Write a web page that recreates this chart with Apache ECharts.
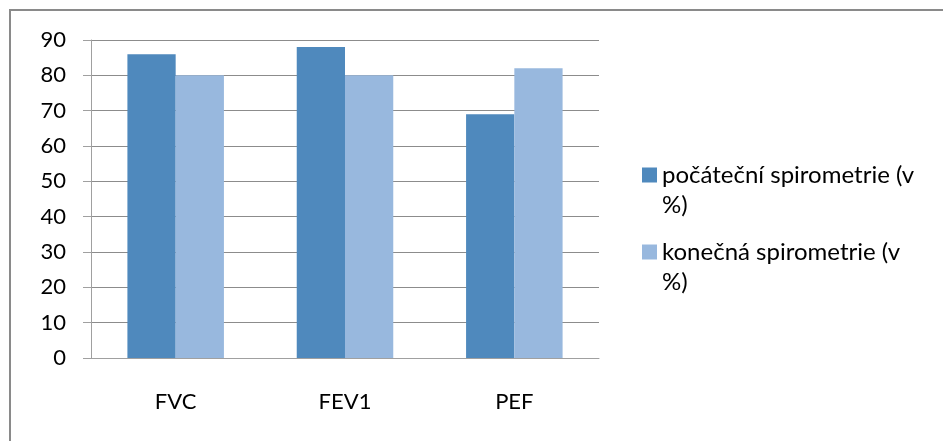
<!DOCTYPE html>
<html>
<head>
<meta charset="utf-8">
<script src="https://cdn.jsdelivr.net/npm/echarts@6/dist/echarts.min.js"></script>
<style>
  html, body { margin: 0; padding: 0; background: #fff; }
  #frame { position: absolute; left: 9px; top: 9px; width: 960px; height: 460px;
           border-top: 2px solid #8a8a8a; border-left: 2px solid #8a8a8a; }
  #chart { position: absolute; left: 0; top: 0; width: 943px; height: 441px; }
</style>
</head>
<body>
<div id="frame"></div>
<div id="chart"></div>
<script>
const categories = ['FVC', 'FEV1', 'PEF'];
const seriesNames = ['počáteční spirometrie (v %)', 'konečná spirometrie (v %)'];
const initialValues = [86, 88, 69];
const finalValues = [80, 80, 82];

const chart = echarts.init(document.getElementById('chart'), null, {width: 943, height: 441});
const font = 'Lato, "Open Sans", sans-serif';

let option = {
  animation: false,
  textStyle: {fontFamily: font},
  grid: {left: 91, top: 40, width: 508, height: 318},
  legend: {
    orient: 'vertical',
    left: 642,
    top: 130,
    padding: 0,
    itemWidth: 15,
    itemHeight: 15,
    itemGap: -13,
    icon: 'rect',
    // leading empty line keeps the marker level with the first text line
    formatter: name => '\n' + name.replace(' %)', '\n%)'),
    textStyle: {fontFamily: font, fontSize: 24, color: '#000', lineHeight: 30}
  },
  xAxis: {
    type: 'category',
    data: categories,
    axisLine: {lineStyle: {color: '#a0a0a0', width: 1}},
    axisTick: {length: 8, lineStyle: {color: '#a0a0a0'}},
    axisLabel: {margin: 33, fontSize: 22, color: '#000', fontFamily: font}
  },
  yAxis: {
    type: 'value',
    min: 0,
    max: 90,
    interval: 10,
    axisLine: {show: true, lineStyle: {color: '#a0a0a0', width: 1}},
    axisTick: {show: true, length: 8, lineStyle: {color: '#a0a0a0'}},
    axisLabel: {margin: 25, fontSize: 22, color: '#000', fontFamily: font},
    splitLine: {lineStyle: {color: '#8c8c8c', width: 1}}
  },
  series: [
    {
      name: seriesNames[0],
      type: 'bar',
      data: initialValues,
      barGap: '0%',
      barCategoryGap: '43%',
      itemStyle: {color: '#4f89bd'}
    },
    {
      name: seriesNames[1],
      type: 'bar',
      data: finalValues,
      barGap: '0%',
      barCategoryGap: '43%',
      itemStyle: {color: '#98b8de'}
    }
  ]
};
chart.setOption(option);
</script>
</body>
</html>
